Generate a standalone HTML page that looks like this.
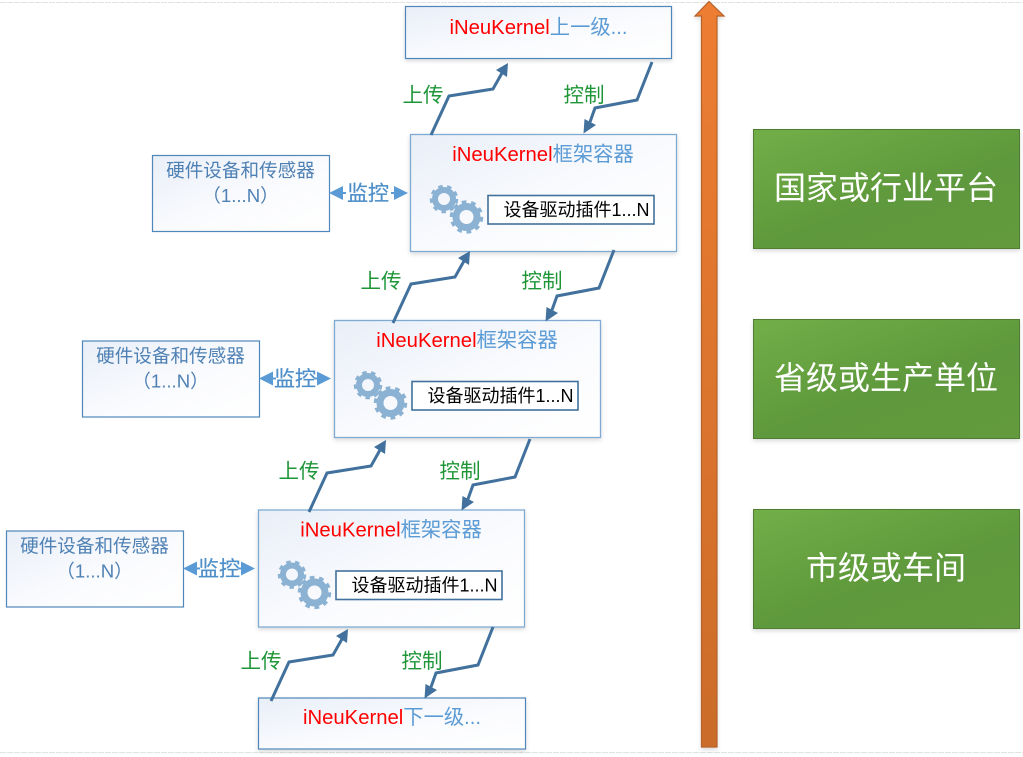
<!DOCTYPE html>
<html><head><meta charset="utf-8">
<style>
html,body{margin:0;padding:0;background:#fff;width:1023px;height:757px;overflow:hidden}
svg{display:block}
text{font-family:"Liberation Sans","Noto Sans CJK SC",sans-serif}
.t{font-size:20.3px;fill:#5b9bd5;text-anchor:middle}
.t tspan.r{fill:#ff0000}
.d{font-size:18px;fill:#000;text-anchor:middle}
.l{font-size:18.6px;fill:#4f81b4;text-anchor:middle}
.g{font-size:20.5px;fill:#1e9638;text-anchor:middle}
.m{font-size:21px;fill:#4f8fc9;stroke:#4f8fc9;stroke-width:.25;text-anchor:middle}
.w{font-size:32px;fill:#fff;text-anchor:middle}
.c{fill:none;stroke:#41719c;stroke-width:3}
</style></head><body>
<svg width="1023" height="757" viewBox="0 0 1023 757" xmlns="http://www.w3.org/2000/svg">
<defs>
<linearGradient id="b" x1="0" y1="0" x2="1" y2="1"><stop offset="0" stop-color="#e9eff8"/><stop offset=".55" stop-color="#fafbfe"/><stop offset="1" stop-color="#fff"/></linearGradient>
<linearGradient id="gr" x1="0.1" y1="0" x2="0.9" y2="1"><stop offset="0" stop-color="#70ad47"/><stop offset=".55" stop-color="#5f993c"/><stop offset="1" stop-color="#629a3c"/></linearGradient>
<linearGradient id="or" x1="0" y1="0" x2="0" y2="1"><stop offset="0" stop-color="#ed7d31"/><stop offset="1" stop-color="#cb6c2a"/></linearGradient>
<filter id="s" x="-5%" y="-5%" width="110%" height="115%"><feDropShadow dx="0" dy="2" stdDeviation="2" flood-color="#000" flood-opacity=".15"/></filter>
<g id="gear">
<circle cx="444" cy="199" r="9" fill="none" stroke="#8bb2d3" stroke-width="6"/>
<circle cx="444" cy="199" r="12.500" fill="none" stroke="#8bb2d3" stroke-width="3.500" stroke-dasharray="4.400 4.400"/>
<circle cx="466.500" cy="217" r="10.500" fill="none" stroke="#8bb2d3" stroke-width="7"/>
<circle cx="466.500" cy="217" r="15" fill="none" stroke="#8bb2d3" stroke-width="3.500" stroke-dasharray="4.700 4.700"/>
</g>
<g id="cont">
<rect x="410.500" y="134.500" width="266" height="117" fill="url(#b)" stroke="#7fabd3" stroke-width="1.300" filter="url(#s)"/>
<use href="#gear"/>
<rect x="488" y="195.500" width="166" height="28.500" fill="#fff" stroke="#41719c" stroke-width="1.600"/>
<text class="d" x="576.500" y="216">设备驱动插件1...N</text>
<text class="t" x="543" y="161"><tspan class="r">iNeuKernel</tspan>框架容器</text>
</g>
<g id="lb">
<rect x="152.500" y="155.500" width="177" height="76" fill="url(#b)" stroke="#4f87ba" stroke-width="1.200"/>
<text class="l" x="240.500" y="177">硬件设备和传感器</text>
<text class="l" x="240.500" y="202">（1...N）</text>
</g>
<g id="lh">
<polygon points="0,0 14,-7 14,7" fill="#5b9bd5"/>
<rect x="13" y="-1" width="4" height="2" fill="#5b9bd5"/>
</g>
<g id="rh">
<polygon points="0,0 -14,-7 -14,7" fill="#5b9bd5"/>
<rect x="-17" y="-1" width="4" height="2" fill="#5b9bd5"/>
</g>
<g id="up">
<polyline class="c" points="431,135 449,96 493,89 502,73"/>
<polygon points="508,63 507,77 496,70" fill="#41719c"/>
</g>
<g id="down">
<polyline class="c" points="652,62 637,100 595,108 590,122"/>
<polygon points="583.500,133.500 584.500,119 596,125" fill="#41719c"/>
</g>
</defs>

<rect width="1023" height="757" fill="#fff"/>
<line x1="0" y1="2.500" x2="1023" y2="2.500" stroke="#e2e2e2" stroke-width="1" stroke-dasharray="6 1"/>
<line x1="0" y1="752.500" x2="1023" y2="752.500" stroke="#e2e2e2" stroke-width="1" stroke-dasharray="6 1"/>

<rect x="405.500" y="6.500" width="266" height="52" fill="url(#b)" stroke="#4f87ba" stroke-width="1.200" filter="url(#s)"/>
<text class="t" x="538.500" y="34"><tspan class="r">iNeuKernel</tspan>上一级...</text>

<rect x="258.500" y="698" width="267" height="51" fill="url(#b)" stroke="#4f87ba" stroke-width="1.200" filter="url(#s)"/>
<text class="t" x="392" y="724"><tspan class="r">iNeuKernel</tspan>下一级...</text>

<use href="#cont"/>
<use href="#cont" x="-76" y="186"/>
<use href="#cont" x="-152" y="375.500"/>

<use href="#lb"/>
<use href="#lb" x="-70" y="185.500"/>
<use href="#lb" x="-146" y="375.500"/>

<use href="#lh" x="329" y="193"/>
<use href="#rh" x="408" y="193"/>
<text class="m" x="368" y="200.500">监控</text>
<use href="#lh" x="259" y="378.500"/>
<use href="#rh" x="331" y="378.500"/>
<text class="m" x="295" y="386">监控</text>
<use href="#lh" x="183" y="568.500"/>
<use href="#rh" x="255" y="568.500"/>
<text class="m" x="219" y="576">监控</text>

<use href="#up"/>
<use href="#up" x="-38" y="188"/>
<use href="#up" x="-122" y="377"/>
<use href="#up" x="-160" y="566"/>
<use href="#down"/>
<use href="#down" x="-38" y="188"/>
<use href="#down" x="-122" y="377"/>
<use href="#down" x="-159" y="565"/>

<text class="g" x="423" y="102">上传</text>
<text class="g" x="584" y="102">控制</text>
<text class="g" x="381" y="288">上传</text>
<text class="g" x="542" y="288">控制</text>
<text class="g" x="299" y="478">上传</text>
<text class="g" x="460" y="478">控制</text>
<text class="g" x="261" y="668">上传</text>
<text class="g" x="422" y="668">控制</text>

<polygon points="709,1.500 724,16 717,16 717,747 701.500,747 701.500,16 695,16" fill="url(#or)" stroke="#b5622a" stroke-width="1.200" filter="url(#s)"/>

<rect x="753.500" y="129.500" width="266" height="119" fill="url(#gr)" stroke="#507e32" filter="url(#s)"/>
<rect x="753.500" y="319.500" width="266" height="119" fill="url(#gr)" stroke="#507e32" filter="url(#s)"/>
<rect x="753.500" y="509.500" width="266" height="119" fill="url(#gr)" stroke="#507e32" filter="url(#s)"/>
<text class="w" x="886" y="199">国家或行业平台</text>
<text class="w" x="886" y="389">省级或生产单位</text>
<text class="w" x="886" y="579">市级或车间</text>
</svg>
</body></html>
